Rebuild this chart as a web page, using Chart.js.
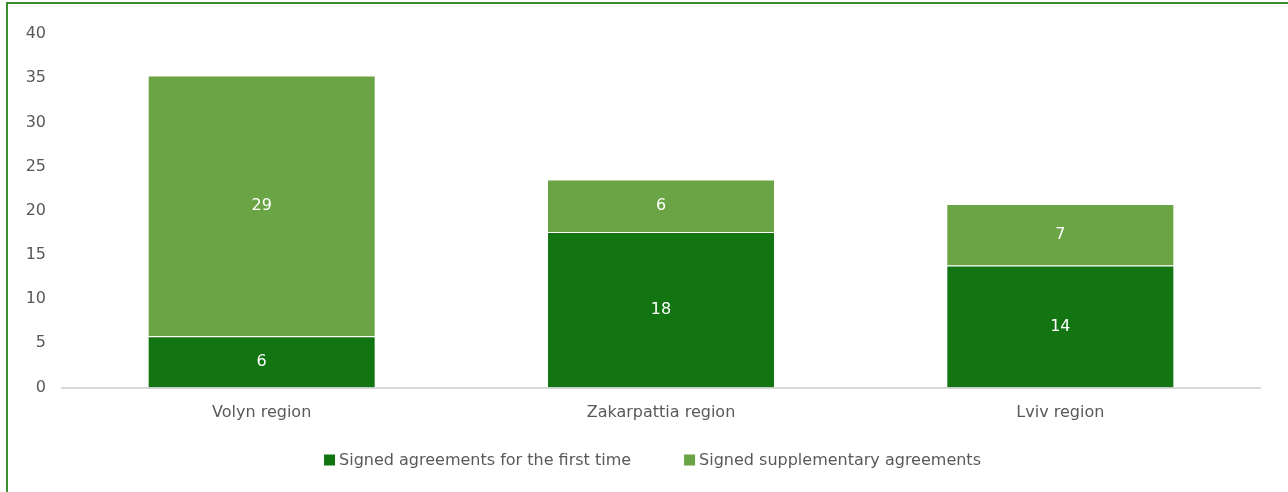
<!DOCTYPE html>
<html>
<head>
<meta charset="utf-8">
<script src="https://cdn.jsdelivr.net/npm/chart.js@4/dist/chart.umd.min.js"></script>
<style>
  html, body { margin: 0; padding: 0; background: #ffffff; }
  #wrap { position: relative; width: 1288px; height: 492px; overflow: hidden; }
  #frame { position: absolute; left: 6px; top: 2px; width: 1400px; height: 600px;
           border-top: 2px solid #3c8f30; border-left: 2px solid #3c8f30; pointer-events: none; }
  canvas { position: absolute; left: 0; top: 0; }
</style>
</head>
<body>
<div id="wrap">
  <canvas id="c" width="1288" height="492"></canvas>
  <div id="frame"></div>
</div>
<script>
const categories = ["Volyn region", "Zakarpattia region", "Lviv region"];
const firstTime = [5.8, 17.6, 13.8];
const supplementary = [29.49, 5.95, 6.95];
const seriesNames = ["Signed agreements for the first time", "Signed supplementary agreements"];
const seriesColors = ["#137512", "#6aa444"];
const yTicks = [0, 5, 10, 15, 20, 25, 30, 35, 40];

const FONT = "'DejaVu Sans', sans-serif";
const GREY = "#595959";

const valueLabels = {
  id: 'valueLabels',
  afterDatasetsDraw(chart) {
    const ctx = chart.ctx;
    ctx.save();
    ctx.fillStyle = '#ffffff';
    ctx.font = "16px " + FONT;
    ctx.textAlign = 'center';
    ctx.textBaseline = 'middle';
    chart.data.datasets.forEach((ds, di) => {
      const meta = chart.getDatasetMeta(di);
      meta.data.forEach((bar, i) => {
        const v = ds.data[i];
        const yMid = (bar.y + bar.base) / 2;
        ctx.fillText(String(Math.round(v)), bar.x, yMid);
      });
    });
    ctx.restore();
  }
};

// bottom legend drawn from dataset labels/colours
const bottomLegend = {
  id: 'bottomLegend',
  afterDraw(chart) {
    const ctx = chart.ctx;
    ctx.save();
    ctx.font = "16px " + FONT;
    ctx.textBaseline = 'middle';
    ctx.textAlign = 'left';
    const box = 11, gapText = 4, gapItem = 53, centerX = 652.5, cy = 460;
    const items = chart.data.datasets.map(ds => ({ label: ds.label, color: ds.backgroundColor,
      w: box + gapText + ctx.measureText(ds.label).width }));
    const total = items.reduce((a, it) => a + it.w, 0) + gapItem * (items.length - 1);
    let x = centerX - total / 2;
    items.forEach(it => {
      ctx.fillStyle = it.color;
      ctx.fillRect(x, cy - box / 2, box, box);
      ctx.fillStyle = GREY;
      ctx.fillText(it.label, x + box + gapText, cy + 1);
      x += it.w + gapItem;
    });
    ctx.restore();
  }
};

new Chart(document.getElementById('c'), {
  type: 'bar',
  data: {
    labels: categories,
    datasets: [
      { label: seriesNames[0], data: firstTime, backgroundColor: seriesColors[0],
        borderColor: 'rgba(255,255,255,0.7)', borderWidth: 1 },
      { label: seriesNames[1], data: supplementary, backgroundColor: seriesColors[1],
        borderColor: 'rgba(255,255,255,0.7)', borderWidth: 1 }
    ]
  },
  options: {
    responsive: false,
    animation: false,
    devicePixelRatio: 1,
    layout: { padding: { left: 15, right: 28, top: 34, bottom: 67.5 } },
    datasets: { bar: { categoryPercentage: 1.0, barPercentage: 0.571 } },
    scales: {
      x: {
        stacked: true,
        grid: { display: false, drawTicks: false },
        border: { display: true, color: '#d9d9d9', width: 2 },
        ticks: { color: GREY, font: { family: FONT, size: 16 }, padding: 16 },
        afterFit(s) { s.height = 37; }
      },
      y: {
        stacked: true,
        min: 0, max: 40,
        grid: { display: false, drawTicks: false },
        border: { display: false },
        afterBuildTicks(s) { s.ticks = yTicks.map(v => ({ value: v })); },
        ticks: { color: GREY, font: { family: FONT, size: 16 }, padding: 16 },
        afterFit(s) { s.width = 47; }
      }
    },
    plugins: {
      legend: { display: false },
      tooltip: { enabled: false }
    }
  },
  plugins: [valueLabels, bottomLegend]
});
</script>
</body>
</html>
